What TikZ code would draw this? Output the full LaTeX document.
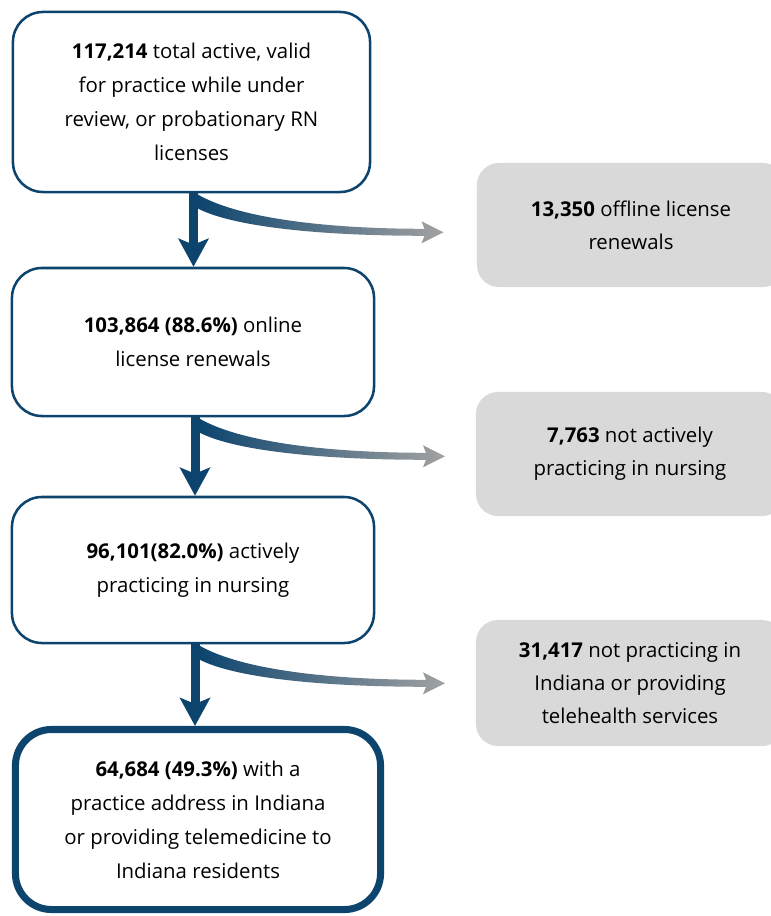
\documentclass[tikz,border=0pt]{standalone}
\usepackage{fontspec}
\setmainfont{Open Sans}
\usepackage{tikz}
\usetikzlibrary{positioning}
\usetikzlibrary{arrows.meta,shapes}
\usetikzlibrary{shadings}
\usetikzlibrary{calc}
\definecolor{navy}{RGB}{12,68,110}
\definecolor{lightgrey}{RGB}{217,217,217}
\definecolor{arrowgrey}{RGB}{162,162,162}
\tikzstyle{stepbox}=[rectangle,rounded corners=0.75cm,draw=navy,line width=1.8pt,fill=white,align=center,inner sep=0pt,font=\fontsize{14.5}{24.2}\selectfont]
\tikzstyle{finalbox}=[stepbox,line width=5pt,rounded corners=0.9cm]
\tikzstyle{outbox}=[rectangle,rounded corners=0.55cm,fill=lightgrey,align=center,inner sep=0pt,font=\fontsize{14.5}{23.5}\selectfont]
\tikzstyle{downedge}=[draw=navy,line width=0.225cm,-{Stealth[length=0.7cm,width=0.75cm,inset=0.15cm]}]
\tikzstyle{sideedge}=[left color=navy,right color=arrowgrey]

\begin{document}
\begin{tikzpicture}[x=0.025cm,y=-0.025cm]
    \useasboundingbox (0,0) rectangle (771,916);

    % left column
    \node[stepbox,minimum width=8.925cm,minimum height=4.5cm] (b1) at (191.5,102)
        {\textbf{117,214} total active, valid\\for practice while under\\review, or probationary RN\\licenses};
    \node[stepbox,minimum width=9.05cm,minimum height=3.7cm] (b2) at (193,342)
        {\textbf{103,864 (88.6\%)} online\\license renewals};
    \node[stepbox,minimum width=9.05cm,minimum height=3.65cm] (b3) at (193,570)
        {\textbf{96,101(82.0\%)} actively\\practicing in nursing};
    \node[finalbox,minimum width=9.125cm,minimum height=4.5cm] (b4) at (198,819.5)
        {\textbf{64,684 (49.3\%)} with a\\practice address in Indiana\\or providing telemedicine to\\Indiana residents};

    % right column
    \node[outbox,minimum width=7.7cm,minimum height=3.1cm] (g1) at (631,225)
        {\textbf{13,350} offline license\\renewals};
    \node[outbox,minimum width=7.7cm,minimum height=3.1cm] (g2) at (630,454)
        {\textbf{7,763} not actively\\practicing in nursing};
    \node[outbox,minimum width=7.7cm,minimum height=3.15cm] (g3) at (630,683)
        {\textbf{31,417} not practicing in\\Indiana or providing\\telehealth services};

    % arrows
    \foreach \up/\down in {b1/b2, b2/b3, b3/b4}
    {
        \begin{scope}[shift={(\up.south)}]
            \shade[sideedge] (6,1) .. controls (45,24) and (130,35.5) .. (233,35.5)
                -- (230,28) -- (252,39) -- (230,50) -- (233,42.5)
                .. controls (125,42.5) and (40,33) .. (6,15) -- cycle;
        \end{scope}
        \draw[downedge] ($(\up.south)+(2,0)$) -- ($(\up.south |- \down.north)+(2,0)$);
    }
\end{tikzpicture}
\end{document}
